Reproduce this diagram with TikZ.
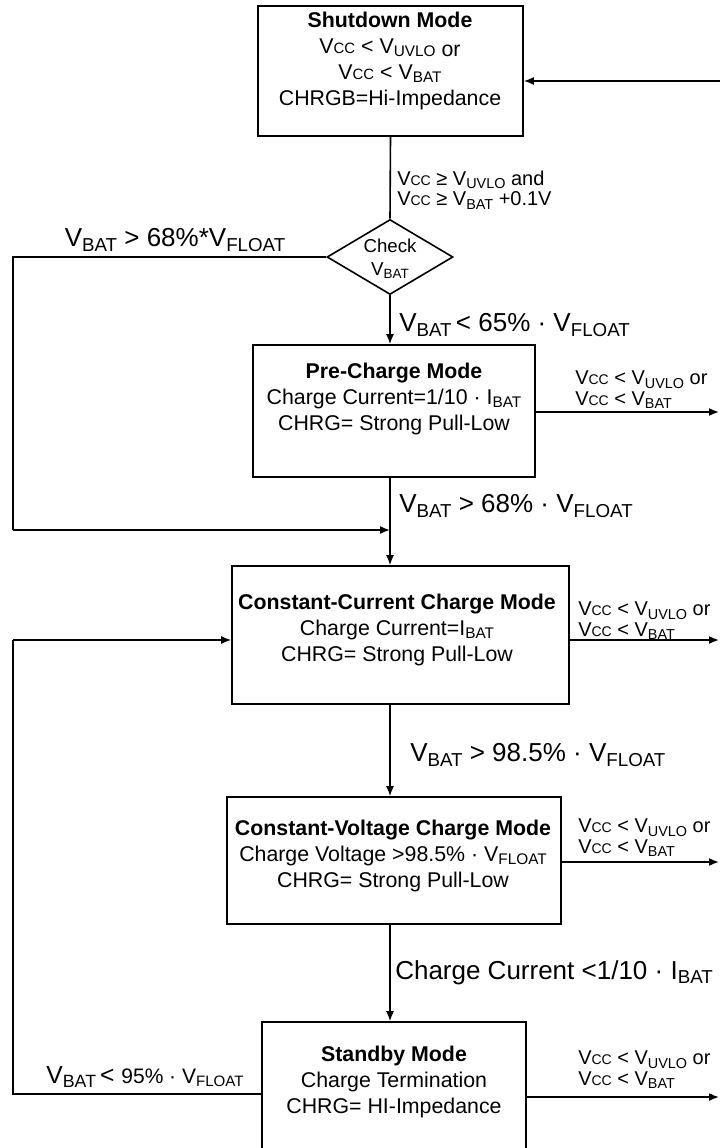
\documentclass[tikz,border=0pt]{standalone}
\usepackage{fontspec}
\setmainfont{Liberation Sans}
\usepackage{graphicx}
\usetikzlibrary{arrows.meta,shapes.geometric,fit}
\newcommand\lowsub[1]{\raisebox{-0.3ex}{\scalebox{0.72}{#1}}}
\newcommand\smcc{\scalebox{0.7}{CC}}
\begin{document}
\begin{tikzpicture}[x=0.75pt,y=-0.75pt,
  box/.style={draw, line width=1.2pt, inner sep=0pt},
  boxtext/.style={align=center, font=\fontsize{16}{19.5}\selectfont, inner sep=0pt},
  biglabel/.style={anchor=west, font=\fontsize{19.5}{22}\selectfont, inner sep=0pt},
  smalllabel/.style={anchor=west, align=left, font=\fontsize{15}{15.5}\selectfont, inner sep=0pt},
  conn/.style={line width=1.2pt, -{Latex[length=7.5pt,width=6pt]}},
  wire/.style={line width=1.2pt}]
\useasboundingbox (0,0) rectangle (720,1148);
\clip (0,0) rectangle (720,1148);

% boxes
\node[box, fit={(258,6) (523,136)}] (sd) {};
\node[box, diamond, minimum width=94.5pt, minimum height=56.25pt, aspect=1.68] (dm) at (390,257) {};
\node[box, fit={(253,345) (535,477)}] (pc) {};
\node[box, fit={(232,566) (569,704)}] (cc) {};
\node[box, fit={(227,797) (561,924)}] (cv) {};
\node[box, fit={(262,1022) (526,1170)}] (sb) {};

% box texts
\node[boxtext] (sdt) at (390,61) {\textbf{Shutdown Mode}\\ V\smcc{} < V\lowsub{UVLO} \raisebox{-0.3ex}{or}\\ V\smcc{} < V\lowsub{BAT}\\ CHRGB=Hi-Impedance};
\node[font=\fontsize{14}{17}\selectfont, align=center, inner sep=0pt] (dmt) at (390,259) {Check\\ V\lowsub{BAT}};
\node[boxtext] (pct) at (394,399) {\textbf{Pre-Charge Mode}\\ Charge Current=1/10 · I\lowsub{BAT}\\ CHRG= Strong Pull-Low};
\node[boxtext] (cct) at (397,630) {\textbf{Constant-Current Charge Mode}\\ Charge Current=I\lowsub{BAT}\\ CHRG= Strong Pull-Low};
\node[boxtext] (cvt) at (393,856) {\textbf{Constant-Voltage Charge Mode}\\ Charge Voltage >98.5\% · V\lowsub{FLOAT}\\ CHRG= Strong Pull-Low};
\node[boxtext] (sbt) at (394,1082) {\textbf{Standby Mode}\\ Charge Termination\\ CHRG= HI-Impedance};

% coordinates
\coordinate (rin) at (720,81);
\coordinate (l1) at (13,257);
\coordinate (l2) at (13,530);
\coordinate (j1) at (390,530);
\coordinate (l3) at (13,1094);
\coordinate (l4) at (13,640);
\coordinate (pcout) at (719,412);
\coordinate (ccout) at (719,640);
\coordinate (cvout) at (719,862);
\coordinate (sbout) at (719,1097);

% connectors
\draw[conn] (rin) -- (sd.east |- rin);
\draw[wire] (sd.south) -- (dm.north);
\draw[conn] (dm.south) -- (pc.north -| dm.south);
\draw[wire] (dm.west) -- (l1) -- (l2);
\draw[conn] (l2) -- (j1);
\draw[conn] (pc.south -| dm.south) -- (cc.north -| dm.south);
\draw[conn] (cc.south -| dm.south) -- (cv.north -| dm.south);
\draw[conn] (cv.south -| dm.south) -- (sb.north -| dm.south);
\draw[wire] (sb.west |- l3) -- (l3) -- (l4);
\draw[conn] (l4) -- (cc.west |- l4);
\draw[conn] (pc.east |- pcout) -- (pcout);
\draw[conn] (cc.east |- ccout) -- (ccout);
\draw[conn] (cv.east |- cvout) -- (cvout);
\draw[conn] (sb.east |- sbout) -- (sbout);

% labels
\node[smalllabel] (a1) at (397,190) {V\smcc{} ≥ V\lowsub{UVLO} and\\ V\smcc{} ≥ V\lowsub{BAT} +0.1V};
\node[biglabel, anchor=center] (a2) at (175,240) {V\lowsub{BAT} > 68\%*V\lowsub{FLOAT}};
\node[biglabel] (a3) at (399,325) {V\lowsub{BAT}\,< 65\% · V\lowsub{FLOAT}};
\node[smalllabel] (a4) at (575,390) {V\smcc{} < V\lowsub{UVLO} or\\ V\smcc{} < V\lowsub{BAT}};
\node[biglabel] (a5) at (399,506) {V\lowsub{BAT} > 68\% · V\lowsub{FLOAT}};
\node[smalllabel] (a6) at (578,621) {V\smcc{} < V\lowsub{UVLO} or\\ V\smcc{} < V\lowsub{BAT}};
\node[biglabel] (a7) at (410,755) {V\lowsub{BAT} > 98.5\% · V\lowsub{FLOAT}};
\node[smalllabel] (a8) at (578,838) {V\smcc{} < V\lowsub{UVLO} or\\ V\smcc{} < V\lowsub{BAT}};
\node[biglabel] (a9) at (395,973) {Charge Current <1/10 · I\lowsub{BAT}};
\node[smalllabel] (a10) at (578,1070) {V\smcc{} < V\lowsub{UVLO} or\\ V\smcc{} < V\lowsub{BAT}};
\node[biglabel, anchor=center, font=\fontsize{18.5}{20}\selectfont] (a11) at (145,1077) {V\lowsub{BAT}\,< \scalebox{0.85}{95\% · V\lowsub{FLOAT}}};
\end{tikzpicture}
\end{document}
